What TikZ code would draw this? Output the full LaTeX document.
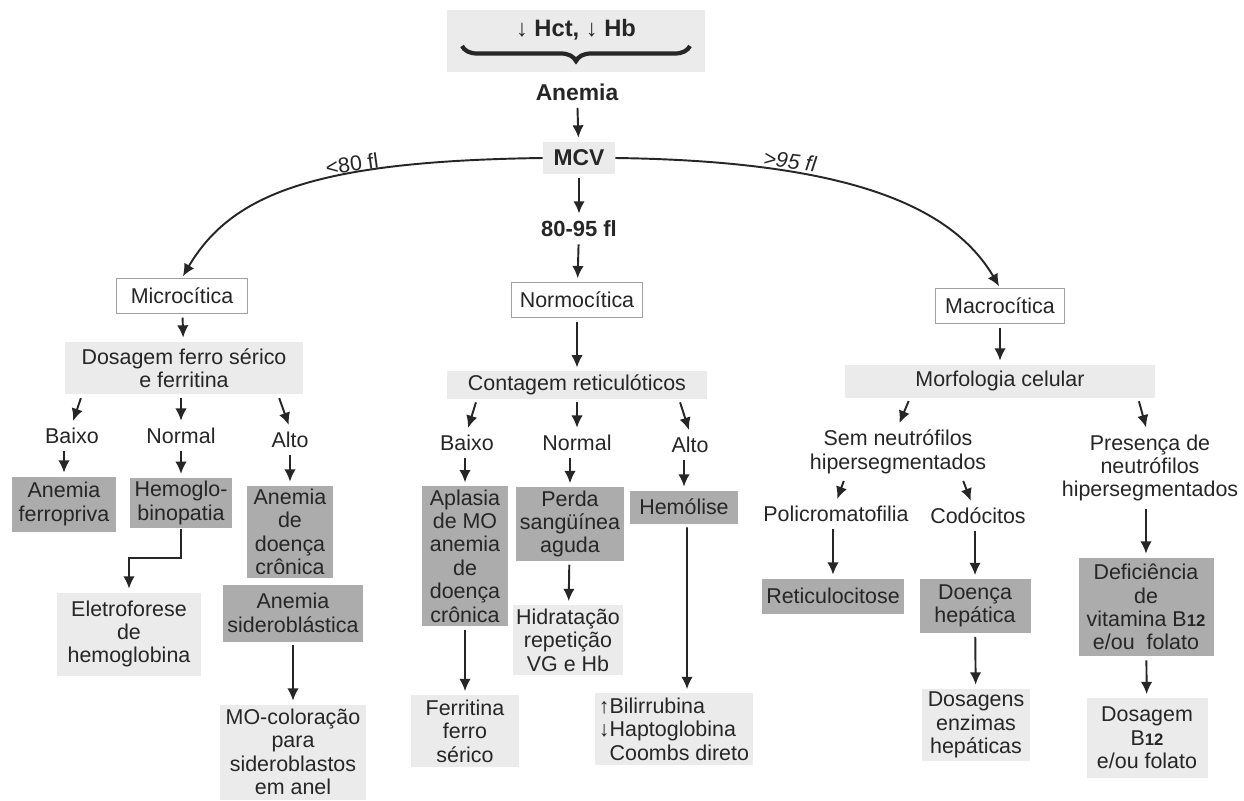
\documentclass[tikz,border=0pt]{standalone}
\usepackage{fontspec}
\setmainfont{Liberation Sans}
\usetikzlibrary{arrows.meta,decorations.pathreplacing}

\definecolor{ink}{RGB}{38,38,38}
\definecolor{lightfill}{RGB}{235,235,235}
\definecolor{darkfill}{RGB}{172,172,172}
\definecolor{rimcol}{RGB}{160,160,160}

\tikzset{
  txt/.style={font=\fontsize{12.2}{13.3}\selectfont, text=ink, align=center, inner sep=2pt},
  lightbox/.style={txt, fill=lightfill},
  darkbox/.style={txt, fill=darkfill},
  openbox/.style={txt, fill=white, draw=rimcol, line width=0.8pt},
  boldtxt/.style={txt, font=\fontsize{13}{15}\selectfont\bfseries},
  sz/.style 2 args={minimum width=#1cm, minimum height=#2cm},
  arr/.style={->, draw=ink, line width=1.1pt, shorten <=2pt, shorten >=2pt}
}

\begin{document}
\begin{tikzpicture}[x=0.02cm,y=-0.02cm,>={Latex[length=7pt,width=6.5pt]}]

\useasboundingbox (0,0) rectangle (1244,801);
\fill[white] (0,0) rectangle (1244,801);

% top
\node[lightbox,sz={5.16}{1.24}] (hbbox) at (576,41) {};
\node[txt,font=\fontsize{13.5}{15}\selectfont\bfseries] (hct) at (576,30) {↓ Hct, ↓ Hb};
\coordinate (bl) at (462,46);
\coordinate (br) at (690,46);
\draw[ink,line width=2.4pt,decorate,decoration={brace,mirror,amplitude=0.3cm}] (bl) -- (br);

\node[boldtxt] (anemia) at (577,92) {Anemia};
\node[lightbox,sz={1.44}{0.66},font=\fontsize{13}{15}\selectfont\bfseries] (mcv) at (579,158) {MCV};
\node[boldtxt,font=\fontsize{12.5}{14}\selectfont\bfseries] (r8095) at (579,229) {80-95 fl};

% three classes
\node[openbox,sz={2.62}{0.7}] (micro) at (182,296) {Microcítica};
\node[openbox,sz={2.62}{0.7}] (normo) at (577,300) {Normocítica};
\node[openbox,sz={2.58}{0.7}] (macro) at (1000,306) {Macrocítica};

\node[txt,rotate=8] (lt80) at (352,164) {<80 fl};
\node[txt,rotate=-7,font=\fontsize{12.2}{13.3}\selectfont\itshape] (gt95) at (790,161) {>95 fl};

\draw[arr] (anemia) -- (mcv);
\draw[arr] (mcv) -- (r8095);
\draw[arr] (r8095) -- (normo);
\draw[->,draw=ink,line width=1.1pt,shorten >=1pt] (mcv.west) .. controls +(-225,3) and +(50,-85) .. (micro.north);
\draw[->,draw=ink,line width=1.1pt,shorten >=1pt] (mcv.east) .. controls +(225,3) and +(-50,-85) .. (macro.north);

% tests
\node[lightbox,sz={4.76}{1.06}] (dos) at (184,368) {Dosagem ferro sérico\\e ferritina};
\node[lightbox,sz={5.22}{0.5}] (cont) at (577,385) {Contagem reticulóticos};
\node[lightbox,sz={6.22}{0.66}] (morf) at (1000,381) {Morfologia celular};

\draw[arr] (micro) -- (dos);
\draw[arr] (normo) -- (cont);
\draw[arr] (macro) -- (morf);

% left branch
\node[txt] (baixoA) at (72,436) {Baixo};
\node[txt] (normalA) at (181,436) {Normal};
\node[txt] (altoA) at (290,440) {Alto};
\draw[arr] ([xshift=0.2cm]baixoA.north |- dos.south) -- (baixoA.north);
\draw[arr] (normalA.north |- dos.south) -- (normalA.north);
\draw[arr] ([xshift=-0.24cm]altoA.north |- dos.south) -- (altoA.north);

\node[darkbox,sz={2.08}{1.1}] (ferrop) at (64,504) {Anemia\\ferropriva};
\node[darkbox,sz={2.06}{0.96}] (hemog) at (181,503) {Hemoglo-\\binopatia};
\node[darkbox,sz={1.72}{1.84}] (adc) at (290,532) {Anemia\\de\\doença\\crônica};
\node[darkbox,sz={2.82}{1.14}] (sidero) at (293,613) {Anemia\\sideroblástica};
\node[lightbox,sz={2.9}{1.66}] (eletro) at (129,634) {Eletroforese\\de\\hemoglobina};
\node[lightbox,sz={2.92}{1.9}] (mocol) at (293,752) {MO-coloração\\para\\sideroblastos\\em anel};

\draw[arr] (ferrop.north |- baixoA.south) -- (ferrop.north);
\draw[arr] (hemog.north |- normalA.south) -- (hemog.north);
\draw[arr] (adc.north |- altoA.south) -- (adc.north);
\draw[->,draw=ink,line width=1.1pt,shorten >=2pt] (hemog.south) -- ++(0,29) -| (eletro.north);
\draw[arr] (sidero) -- (mocol);

% middle branch
\node[txt] (baixoB) at (467,443) {Baixo};
\node[txt] (normalB) at (577,443) {Normal};
\node[txt] (altoB) at (690,445) {Alto};
\draw[arr] ([xshift=0.2cm]baixoB.north |- cont.south) -- (baixoB.north);
\draw[arr] (normalB.north |- cont.south) -- (normalB.north);
\draw[arr] ([xshift=-0.22cm]altoB.north |- cont.south) -- (altoB.north);

\node[darkbox,sz={1.72}{2.76}] (aplasia) at (465,556) {Aplasia\\de MO\\anemia\\de\\doença\\crônica};
\node[darkbox,sz={2.14}{1.44}] (perda) at (570,524) {Perda\\sangüínea\\aguda};
\node[darkbox,sz={2.16}{0.66}] (hemol) at (684,507) {Hemólise};
\node[lightbox,sz={2.18}{1.44}] (ferrit) at (465,731) {Ferritina\\ferro\\sérico};
\node[lightbox,sz={2.2}{1.4}] (hidrat) at (568,640) {Hidratação\\repetição\\VG e Hb};
\node[lightbox,sz={3.1}{1.44},align=left] (bili) at (674,729) {{\bfseries ↑}Bilirrubina\\{\bfseries ↓}Haptoglobina\\\hphantom{↑}Coombs direto};

\draw[arr] (aplasia.north |- baixoB.south) -- (aplasia.north);
\draw[arr] (perda.north |- normalB.south) -- (perda.north);
\draw[arr] (hemol.north |- altoB.south) -- (hemol.north);
\draw[arr] (aplasia) -- (ferrit);
\draw[arr] (perda) -- (hidrat);
\draw[arr] ([xshift=0.06cm]hemol.south) -- ([xshift=0.26cm]bili.north);

% right branch
\node[txt] (sem) at (898,452) {Sem neutrófilos\\hipersegmentados};
\node[txt] (pres) at (1150,468) {Presença de\\neutrófilos\\hipersegmentados};
\draw[arr] ([xshift=0.24cm]sem.north |- morf.south) -- (sem.north);
\draw[arr] ([xshift=-0.24cm]pres.north |- morf.south) -- ([xshift=-0.06cm]pres.north);

\node[txt] (poli) at (836,514) {Policromatofilia};
\node[txt] (codo) at (978,516) {Codócitos};
\draw[arr] ([xshift=0.18cm]poli.north |- sem.south) -- (poli.north);
\draw[arr] ([xshift=-0.32cm]codo.north |- sem.south) -- ([xshift=-0.12cm]codo.north);

\node[darkbox,sz={2.84}{0.7}] (retic) at (833,596) {Reticulocitose};
\node[darkbox,sz={2.22}{1.08}] (doenc) at (975,606) {Doença\\hepática};
\node[darkbox,sz={2.7}{1.98}] (defic) at (1146,607) {Deficiência\\de\\vitamina B{\fontsize{9.5}{10}\selectfont\bfseries 12}\\e/ou\ \ folato};
\node[lightbox,sz={2.16}{1.4}] (dosenz) at (976,725) {Dosagens\\enzimas\\hepáticas};
\node[lightbox,sz={2.42}{1.6}] (dosb12) at (1147,738) {Dosagem\\B{\fontsize{9.5}{10}\selectfont\bfseries 12}\\e/ou folato};

\draw[arr] (retic.north |- poli.south) -- (retic.north);
\draw[arr] (doenc.north |- codo.south) -- (doenc.north);
\draw[arr] (defic.north |- pres.south) -- (defic.north);
\draw[arr] (doenc) -- (dosenz);
\draw[arr] (defic) -- (dosb12);

\end{tikzpicture}
\end{document}
